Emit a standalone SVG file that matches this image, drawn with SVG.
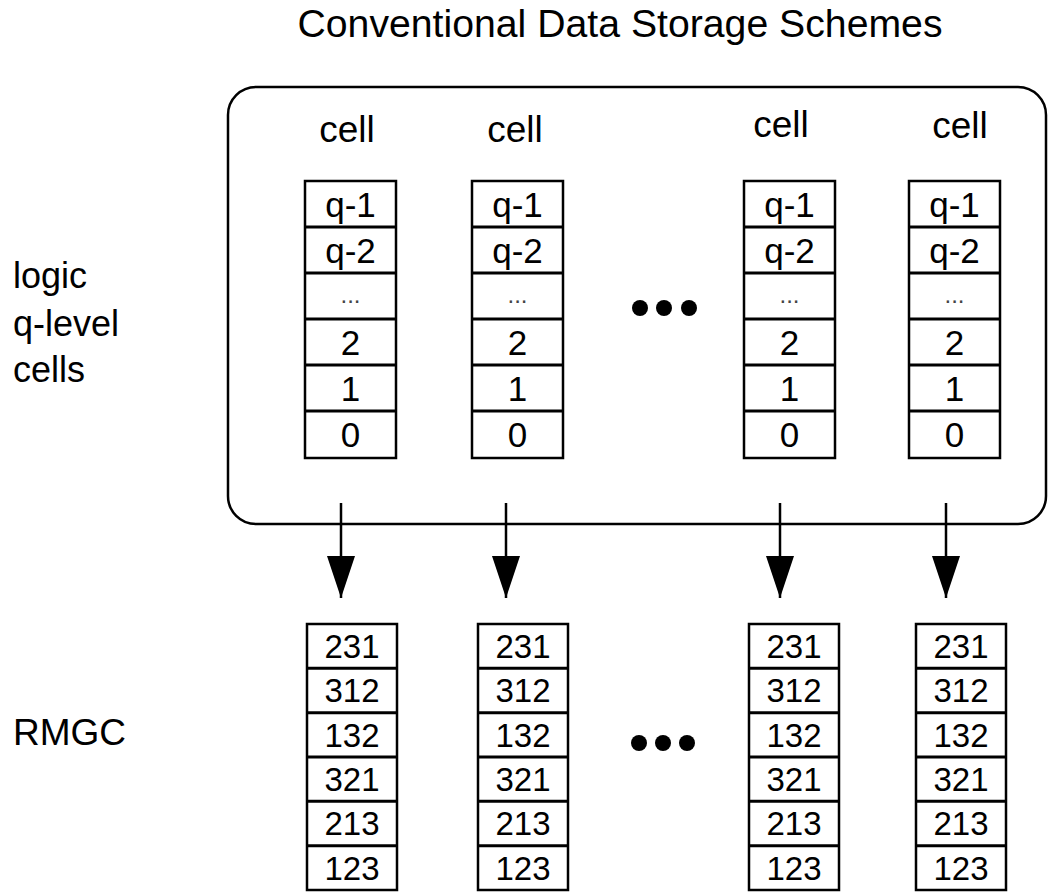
<svg xmlns="http://www.w3.org/2000/svg" width="1049" height="892" viewBox="0 0 1049 892">
<style>
text{font-family:"Liberation Sans",Arial,sans-serif;fill:#000}
.title{font-size:38px;text-anchor:middle}
.lbl{font-size:36px}
.side{font-size:37px}
.cap{font-size:37px;text-anchor:middle}
.tv{font-size:35px;text-anchor:middle}
.bv{font-size:33px;text-anchor:middle}
.ell{font-size:24px;text-anchor:middle;fill:#444}
.box{fill:#fff;stroke:#000;stroke-width:2.5}
.div{stroke:#000;stroke-width:3}
.frame{fill:none;stroke:#000;stroke-width:2.5}
.conn{stroke:#000;stroke-width:2.5;fill:none}
.dot{fill:#000}
</style>
<defs>
<marker id="ah" viewBox="0 0 42 28" refX="42" refY="14" markerWidth="42" markerHeight="28" markerUnits="userSpaceOnUse" orient="auto">
<path d="M0,0 L42,14 L0,28 z" fill="#000"/>
</marker>
<g id="topcol">
<rect class="box" x="0" y="0" width="91" height="277"/>
<line class="div" x1="0" y1="46" x2="91" y2="46"/>
<line class="div" x1="0" y1="92" x2="91" y2="92"/>
<line class="div" x1="0" y1="138" x2="91" y2="138"/>
<line class="div" x1="0" y1="184" x2="91" y2="184"/>
<line class="div" x1="0" y1="230" x2="91" y2="230"/>
<text class="tv" x="45.5" y="36">q-1</text>
<text class="tv" x="45.5" y="82">q-2</text>
<text class="ell" x="45.5" y="122">...</text>
<text class="tv" x="45.5" y="174">2</text>
<text class="tv" x="45.5" y="220">1</text>
<text class="tv" x="45.5" y="266">0</text>
</g>
<g id="botcol">
<rect class="box" x="0" y="0" width="90" height="266"/>
<line class="div" x1="0" y1="44.3" x2="90" y2="44.3"/>
<line class="div" x1="0" y1="88.7" x2="90" y2="88.7"/>
<line class="div" x1="0" y1="133" x2="90" y2="133"/>
<line class="div" x1="0" y1="177.3" x2="90" y2="177.3"/>
<line class="div" x1="0" y1="221.7" x2="90" y2="221.7"/>
<text class="bv" x="45" y="34">231</text>
<text class="bv" x="45" y="78">312</text>
<text class="bv" x="45" y="123">132</text>
<text class="bv" x="45" y="167">321</text>
<text class="bv" x="45" y="211">213</text>
<text class="bv" x="45" y="256">123</text>
</g>
</defs>
<rect width="1049" height="892" fill="#fff"/>
<g id="title"><text class="title" x="620" y="37" textLength="645" lengthAdjust="spacingAndGlyphs">Conventional Data Storage Schemes</text></g>
<g id="label-logic"><text class="lbl" x="13" y="288">logic</text><text class="lbl" x="13" y="336">q-level</text><text class="lbl" x="13" y="382">cells</text></g>
<g id="label-rmgc"><text class="side" x="13" y="745">RMGC</text></g>
<g id="container"><rect class="frame" x="228" y="87" width="818" height="437" rx="28" ry="28"/></g>
<g id="cell1"><text class="cap" x="347" y="142">cell</text><use href="#topcol" x="305" y="181"/></g>
<g id="cell2"><text class="cap" x="515" y="142">cell</text><use href="#topcol" x="472" y="181"/></g>
<g id="cell3"><text class="cap" x="781" y="137">cell</text><use href="#topcol" x="744" y="181"/></g>
<g id="cell4"><text class="cap" x="960" y="138">cell</text><use href="#topcol" x="909" y="181"/></g>
<g id="dots-top"><circle class="dot" cx="640" cy="308" r="8"/><circle class="dot" cx="664" cy="308" r="8"/><circle class="dot" cx="689" cy="308" r="8"/></g>
<g id="rmgc1"><use href="#botcol" x="307" y="624"/></g>
<g id="rmgc2"><use href="#botcol" x="478" y="624"/></g>
<g id="rmgc3"><use href="#botcol" x="749" y="624"/></g>
<g id="rmgc4"><use href="#botcol" x="916" y="624"/></g>
<g id="dots-bottom"><circle class="dot" cx="639" cy="743" r="8"/><circle class="dot" cx="663" cy="743" r="8"/><circle class="dot" cx="687" cy="743" r="8"/></g>
<g id="connectors">
<line class="conn" x1="341" y1="503" x2="341" y2="598" marker-end="url(#ah)"/>
<line class="conn" x1="506" y1="503" x2="506" y2="598" marker-end="url(#ah)"/>
<line class="conn" x1="780" y1="503" x2="780" y2="598" marker-end="url(#ah)"/>
<line class="conn" x1="946" y1="503" x2="946" y2="598" marker-end="url(#ah)"/>
</g>
</svg>
